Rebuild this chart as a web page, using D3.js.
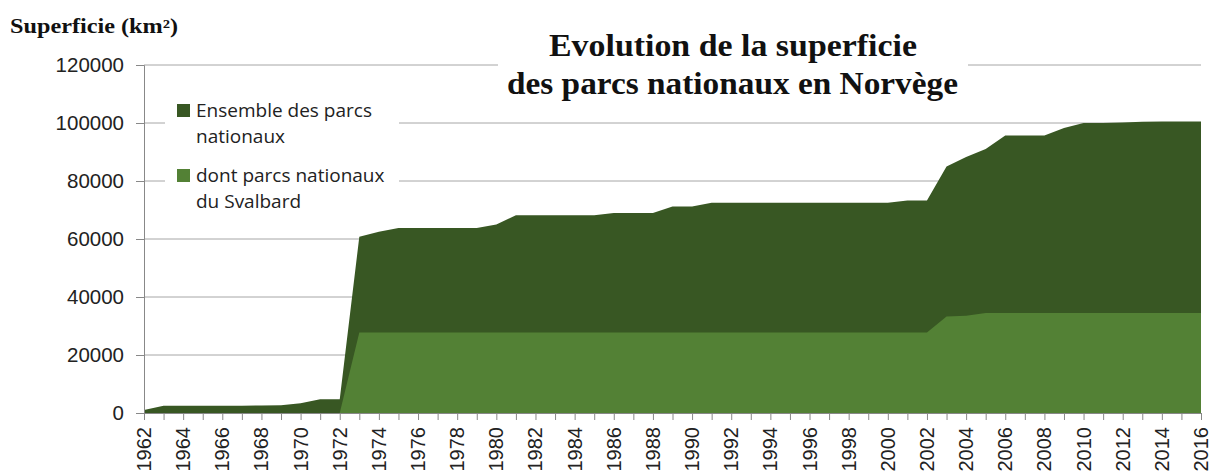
<!DOCTYPE html>
<html>
<head>
<meta charset="utf-8">
<script src="https://cdnjs.cloudflare.com/ajax/libs/d3/7.8.5/d3.min.js"></script>
<style>
  body { margin: 0; background: #fff; }
  svg { display: block; }
</style>
</head>
<body>
<svg id="chart" width="1211" height="475"></svg>
<script>
// years 1962..2016
const years = d3.range(1962, 2017);

// total area of all national parks (km2)
const ensemble = [
  1000, 2500, 2500, 2500, 2500, 2500, 2600, 2700, 3400, 4700,
  4700, 60800, 62500, 63800, 63800, 63800, 63800, 63800, 65000, 68200,
  68200, 68200, 68200, 68200, 69000, 69000, 69000, 71200, 71200, 72500,
  72500, 72500, 72500, 72500, 72500, 72500, 72500, 72500, 72500, 73300,
  73300, 85000, 88300, 91000, 95700, 95700, 95700, 98300, 100000, 100000,
  100200, 100400, 100500, 100500, 100500
];

// of which Svalbard
const svalbard = [
  0, 0, 0, 0, 0, 0, 0, 0, 0, 0,
  0, 27800, 27800, 27800, 27800, 27800, 27800, 27800, 27800, 27800,
  27800, 27800, 27800, 27800, 27800, 27800, 27800, 27800, 27800, 27800,
  27800, 27800, 27800, 27800, 27800, 27800, 27800, 27800, 27800, 27800,
  27800, 33300, 33500, 34500, 34500, 34500, 34500, 34500, 34500, 34500,
  34500, 34500, 34500, 34500, 34500
];

const yTicks = [0, 20000, 40000, 60000, 80000, 100000, 120000];
const xLabels = d3.range(1962, 2017, 2);
const seriesNames = ["Ensemble des parcs|nationaux", "dont parcs nationaux|du Svalbard"];
const colors = ["#385723", "#538135"];

const margin = {top: 65, right: 10, bottom: 62, left: 144};
const svg = d3.select("#chart");

const x = d3.scaleLinear().domain([1962, 2016]).range([margin.left, 1201]);
const y = d3.scaleLinear().domain([0, 120000]).range([413, margin.top]);

// gridlines
svg.append("g")
  .selectAll("line")
  .data(yTicks.slice(1))
  .join("line")
  .attr("x1", margin.left).attr("x2", 1201)
  .attr("y1", d => y(d)).attr("y2", d => y(d))
  .attr("stroke", "#a6a6a6").attr("stroke-width", 1);

// areas
const area = vals => d3.area()
  .x((d, i) => x(years[i]))
  .y0(y(0))
  .y1(d => y(d))(vals);

svg.append("path").attr("d", area(ensemble)).attr("fill", colors[0]);
svg.append("path").attr("d", area(svalbard)).attr("fill", colors[1]);

// y axis
const yAxis = svg.append("g")
  .attr("transform", `translate(${margin.left},0)`)
  .call(d3.axisLeft(y).tickValues(yTicks).tickSize(8).tickPadding(12).tickFormat(d3.format("d")));
yAxis.select(".domain").attr("stroke", "#888");
yAxis.selectAll(".tick line").attr("stroke", "#888");
yAxis.selectAll("text")
  .attr("font-family", "Liberation Sans, Arial, sans-serif")
  .attr("font-size", 20.5).attr("fill", "#222");

// x axis
const xAxis = svg.append("g")
  .attr("transform", `translate(0,${y(0)})`)
  .call(d3.axisBottom(x).tickValues(years).tickSize(7).tickFormat(""));
xAxis.select(".domain").attr("stroke", "#888");
xAxis.selectAll(".tick line").attr("stroke", "#888");

svg.append("g")
  .selectAll("text")
  .data(xLabels)
  .join("text")
  .attr("transform", d => `translate(${x(d) + 7},${y(0) + 14}) rotate(-90)`)
  .attr("text-anchor", "end")
  .attr("font-family", "Liberation Sans, Arial, sans-serif")
  .attr("font-size", 20).attr("fill", "#222")
  .text(d => d);

// title box
svg.append("rect").attr("x", 498).attr("y", 20).attr("width", 470).attr("height", 82).attr("fill", "#fff");
const title = svg.append("text")
  .attr("font-family", "Liberation Serif, Times New Roman, serif")
  .attr("font-weight", "bold").attr("font-size", 31).attr("fill", "#111");
title.append("tspan").attr("x", 549).attr("y", 56)
  .attr("textLength", 368).attr("lengthAdjust", "spacingAndGlyphs")
  .text("Evolution de la superficie");
title.append("tspan").attr("x", 507).attr("y", 94)
  .attr("textLength", 451).attr("lengthAdjust", "spacingAndGlyphs")
  .text("des parcs nationaux en Norvège");

// y axis title
svg.append("text")
  .attr("x", 10).attr("y", 33)
  .attr("font-family", "Liberation Serif, Times New Roman, serif")
  .attr("font-weight", "bold").attr("font-size", 20).attr("fill", "#111")
  .attr("textLength", 168).attr("lengthAdjust", "spacingAndGlyphs")
  .text("Superficie (km²)");

// legend
svg.append("rect").attr("x", 165).attr("y", 92).attr("width", 234).attr("height", 124).attr("fill", "#fff");
const leg = svg.append("g").selectAll("g")
  .data(seriesNames)
  .join("g")
  .attr("transform", (d, i) => `translate(177,${104 + i * 65})`);
leg.append("rect").attr("width", 13).attr("height", 13).attr("fill", (d, i) => colors[i]);
leg.append("text")
  .attr("font-family", "Open Sans, Noto Sans, sans-serif")
  .attr("font-size", 19).attr("fill", "#222")
  .selectAll("tspan")
  .data(d => d.split("|"))
  .join("tspan")
  .attr("x", 19)
  .attr("y", (d, i) => 13 + i * 26)
  .text(d => d);
</script>
</body>
</html>
